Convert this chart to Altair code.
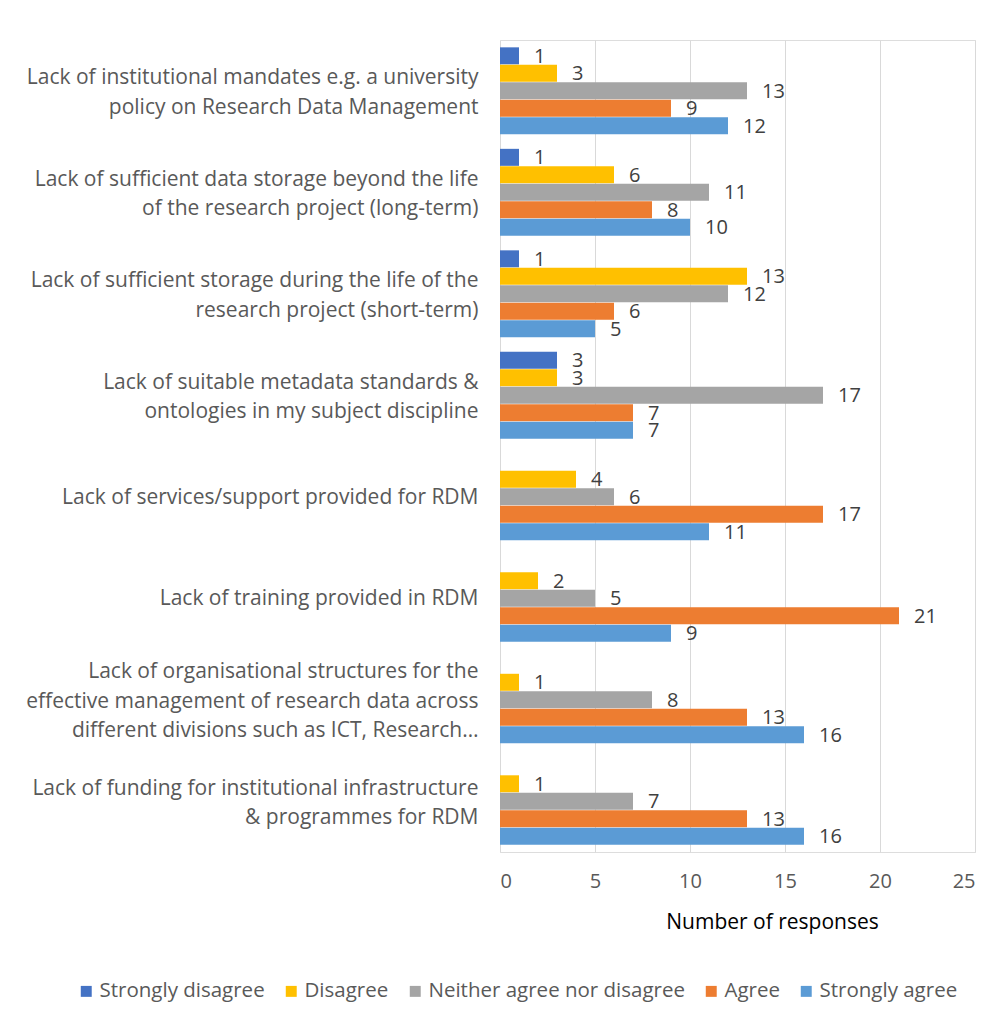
import altair as alt
import pandas as pd

categories = [
    "Lack of institutional mandates e.g. a university\npolicy on Research Data Management",
    "Lack of sufficient data storage beyond the life\nof the research project (long-term)",
    "Lack of sufficient storage during the life of the\nresearch project (short-term)",
    "Lack of suitable metadata standards &\nontologies in my subject discipline",
    "Lack of services/support provided for RDM",
    "Lack of training provided in RDM",
    "Lack of organisational structures for the\neffective management of research data across\ndifferent divisions such as ICT, Research…",
    "Lack of funding for institutional infrastructure\n& programmes for RDM",
]

series = ["Strongly disagree", "Disagree", "Neither agree nor disagree", "Agree", "Strongly agree"]
colors = ["#4472C4", "#FFC000", "#A5A5A5", "#ED7D31", "#5B9BD5"]

strongly_disagree = [1, 1, 1, 3, 0, 0, 0, 0]
disagree = [3, 6, 13, 3, 4, 2, 1, 1]
neither = [13, 11, 12, 17, 6, 5, 8, 7]
agree = [9, 8, 6, 7, 17, 21, 13, 13]
strongly_agree = [12, 10, 5, 7, 11, 9, 16, 16]

values = [strongly_disagree, disagree, neither, agree, strongly_agree]

rows = []
for s, vals in zip(series, values):
    for c, v in zip(categories, vals):
        if v > 0:
            rows.append({"category": c, "series": s, "value": v})
df = pd.DataFrame(rows)

FONT = "Open Sans"
FS = 21
LH = 29.5

label_offset = {
    "condition": [
        {"test": "length(split(datum.value, '\\n')) == 3", "value": -LH + 2},
        {"test": "length(split(datum.value, '\\n')) == 2", "value": -LH / 2 + 2},
    ],
    "value": 1,
}

y_enc = alt.Y(
    "category:N",
    sort=categories,
    scale=alt.Scale(paddingInner=0.14, paddingOuter=0.07),
    axis=alt.Axis(
        title=None,
        labelExpr="split(datum.label, '\\n')",
        labelAlign="right",
        labelFontSize=FS,
        labelLineHeight=LH,
        labelColor="#595959",
        labelFont=FONT,
        labelLimit=1000,
        labelPadding=22,
        labelOffset=label_offset,
        minExtent=490,
        maxExtent=490,
        grid=False,
        domain=False,
        ticks=False,
    ),
)
yoff_enc = alt.YOffset("series:N", scale=alt.Scale(domain=series, paddingInner=0))
x_enc = alt.X(
    "value:Q",
    scale=alt.Scale(domain=[0, 25], nice=False),
    axis=alt.Axis(
        values=[0, 5, 10, 15, 20, 25],
        title="Number of responses",
        titleFont=FONT,
        titleFontSize=FS,
        titleFontWeight="normal",
        titleColor="#000000",
        titleX=272,
        titleAlign="center",
        titlePadding=20,
        labelFont=FONT,
        labelFontSize=20,
        labelColor="#595959",
        labelPadding=19,
        grid=True,
        gridColor="#D9D9D9",
        gridWidth=1,
        domain=False,
        ticks=False,
    ),
)

bars = alt.Chart(df).mark_bar(size=17).encode(
    y=y_enc,
    yOffset=yoff_enc,
    x=x_enc,
    color=alt.Color(
        "series:N",
        scale=alt.Scale(domain=series, range=colors),
        legend=alt.Legend(
            title=None,
            orient="none",
            direction="horizontal",
            legendX=-424,
            legendY=941,
            symbolType="square",
            symbolSize=120,
            symbolStrokeWidth=0,
            labelFont=FONT,
            labelFontSize=20.5,
            labelColor="#595959",
            labelOffset=3,
            columnPadding=16,
            labelLimit=1000,
        ),
    ),
)

labels = alt.Chart(df).mark_text(
    align="left", baseline="middle", dx=15, dy=1, font=FONT, fontSize=20, color="#404040"
).encode(
    y=alt.Y("category:N", sort=categories),
    yOffset=yoff_enc,
    x=alt.X("value:Q"),
    text=alt.Text("value:Q"),
)

chart = (
    alt.layer(bars, labels)
    .properties(width=475, height=812, padding={"left": 10, "top": 40, "right": 22, "bottom": 10})
    .configure_view(stroke=None)
    .configure(background="white")
)

chart.save("out.html", embed_options={"renderer": "svg", "actions": False})
